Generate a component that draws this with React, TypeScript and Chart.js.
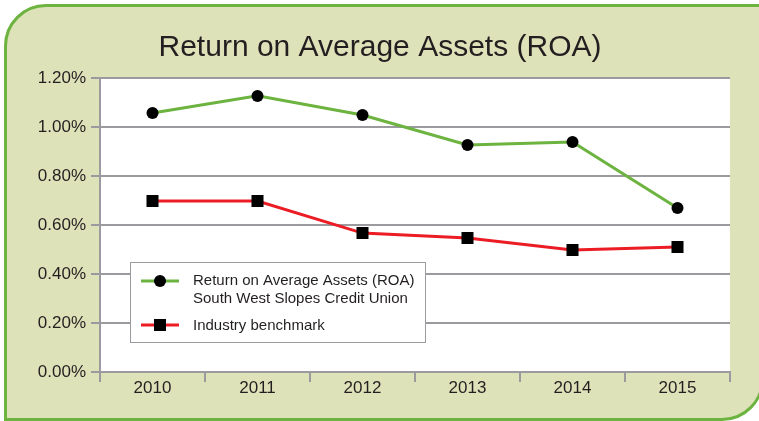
import React, { useEffect, useRef } from "react";
import { Chart, registerables } from "chart.js";

Chart.register(...registerables);

const titleText = "Return on Average Assets (ROA)";
const years = ["2010", "2011", "2012", "2013", "2014", "2015"];
const roaValues = [1.057, 1.127, 1.049, 0.927, 0.939, 0.669];
const benchmarkValues = [0.698, 0.698, 0.567, 0.547, 0.498, 0.51];
const roaLegend = ["Return on Average Assets (ROA)", "South West Slopes Credit Union"];
const benchLegend = "Industry benchmark";

const GREEN = "#6cb33f";
const RED = "#ec1c24";
const GRID = "#9b9b9f";
const TEXT = "#231f20";
const FONT = "'Liberation Sans', Arial, Helvetica, sans-serif";

const decorPlugin = {
  id: "decor",
  beforeDraw(chart: any) {
    const { ctx, chartArea } = chart;
    ctx.save();
    ctx.fillStyle = "#ffffff";
    ctx.fillRect(chartArea.left, chartArea.top, chartArea.right - chartArea.left, chartArea.bottom - chartArea.top);
    ctx.restore();
  },
  afterDraw(chart: any) {
    const { ctx } = chart;
    ctx.save();
    // title
    ctx.fillStyle = TEXT;
    ctx.font = `300 30px ${FONT}`;
    ctx.textAlign = "center";
    ctx.textBaseline = "alphabetic";
    ctx.fillText(titleText, 380, 56);

    // legend box
    const bx = 130.5, by = 262.5, bw = 295, bh = 80;
    ctx.fillStyle = "#ffffff";
    ctx.fillRect(bx, by, bw, bh);
    ctx.strokeStyle = GRID;
    ctx.lineWidth = 1;
    ctx.strokeRect(bx, by, bw, bh);

    // item 1
    ctx.lineWidth = 3;
    ctx.strokeStyle = GREEN;
    ctx.beginPath();
    ctx.moveTo(141, 281);
    ctx.lineTo(179, 281);
    ctx.stroke();
    ctx.fillStyle = "#000";
    ctx.beginPath();
    ctx.arc(160, 281, 6, 0, Math.PI * 2);
    ctx.fill();

    // item 2
    ctx.strokeStyle = RED;
    ctx.beginPath();
    ctx.moveTo(141, 325);
    ctx.lineTo(179, 325);
    ctx.stroke();
    ctx.fillStyle = "#000";
    ctx.fillRect(154, 319, 12, 12);

    ctx.fillStyle = TEXT;
    ctx.font = `15px ${FONT}`;
    ctx.textAlign = "left";
    ctx.textBaseline = "middle";
    ctx.fillText(roaLegend[0], 193, 281);
    ctx.fillText(roaLegend[1], 193, 299);
    ctx.fillText(benchLegend, 193, 326);
    ctx.restore();
  },
};

export default function App() {
  const ref = useRef<HTMLCanvasElement>(null);

  useEffect(() => {
    if (!ref.current) return;
    const chart = new Chart(ref.current, {
      type: "line",
      data: {
        labels: years,
        datasets: [
          {
            label: roaLegend.join(" "),
            data: roaValues,
            borderColor: GREEN,
            backgroundColor: "#000",
            borderWidth: 3,
            pointStyle: "circle",
            pointRadius: 6,
            pointBackgroundColor: "#000",
            pointBorderWidth: 0,
            tension: 0,
          },
          {
            label: benchLegend,
            data: benchmarkValues,
            borderColor: RED,
            backgroundColor: "#000",
            borderWidth: 3,
            pointStyle: "rect",
            pointRadius: 8.5,
            pointBackgroundColor: "#000",
            pointBorderWidth: 0,
            tension: 0,
          },
        ],
      },
      options: {
        animation: false,
        responsive: false,
        devicePixelRatio: 1,
        layout: { padding: { left: 0, right: 29, top: 78, bottom: 0 } },
        plugins: {
          legend: { display: false },
          title: { display: false },
          tooltip: { enabled: false },
        },
        scales: {
          x: {
            offset: true,
            grid: {
              offset: true,
              drawOnChartArea: false,
              drawTicks: true,
              tickLength: 10,
              color: GRID,
              lineWidth: 2,
            },
            border: { display: true, color: GRID, width: 2 },
            ticks: {
              color: TEXT,
              font: { family: FONT, size: 17 },
              padding: -4,
              maxRotation: 0,
            },
            afterFit: (s: any) => {
              s.height = 49;
            },
          },
          y: {
            min: 0,
            max: 1.2,
            grid: {
              color: GRID,
              lineWidth: 2,
              tickLength: 9,
            },
            border: { display: true, color: GRID, width: 2 },
            ticks: {
              stepSize: 0.2,
              color: TEXT,
              font: { family: FONT, size: 17 },
              padding: 5,
              callback: (v: any) => Number(v).toFixed(2) + "%",
            },
            afterFit: (s: any) => {
              s.width = 100;
            },
          },
        },
      },
      plugins: [decorPlugin],
    });
    return () => chart.destroy();
  }, []);

  return (
    <div style={{ position: "fixed", left: 0, top: 0, width: 759, height: 421, overflow: "hidden" }}>
      <div
        style={{
          position: "absolute",
          left: 4,
          top: 4,
          width: 760,
          height: 417,
          boxSizing: "border-box",
          border: `3px solid ${GREEN}`,
          borderRadius: "42px 0 42px 0",
          background: "#dee2b9",
        }}
      />
      <canvas
        ref={ref}
        width={759}
        height={421}
        style={{ position: "absolute", left: 0, top: 0, width: 759, height: 421 }}
      />
    </div>
  );
}
